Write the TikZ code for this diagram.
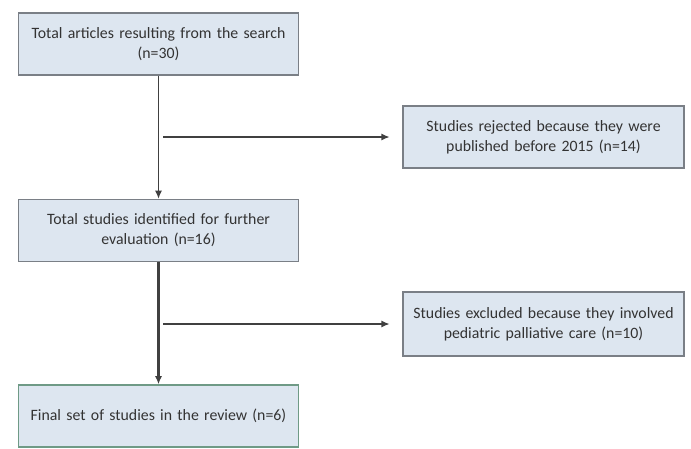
\documentclass[tikz,border=0pt]{standalone}
\usepackage{fontspec}
\setmainfont{Carlito}
\usetikzlibrary{arrows.meta}

\definecolor{boxfill}{HTML}{DDE6F0}
\definecolor{boxline}{HTML}{7A7F86}
\definecolor{endline}{HTML}{6F9A86}

\tikzset{
  stage/.style={draw=boxline, line width=1.1pt, fill=boxfill, align=center,
    text width=8.1cm, inner sep=2pt, minimum width=8.4cm, minimum height=1.86cm,
    font=\fontsize{13.5}{17}\selectfont, text=black!80},
  flow/.style={draw=black!75, line width=1.3pt, -{Latex[length=7pt,width=6pt]}}
}

\begin{document}
\begin{tikzpicture}[x=0.03cm,y=-0.03cm]
  \useasboundingbox (0,0) rectangle (691,449);

  \node[stage] (search) at (158.5,44) {Total articles resulting from the search\\(n=30)};
  \node[stage] (further) at (158.5,230.5) {Total studies identified for further\\evaluation (n=16)};
  \node[stage, draw=endline] (final) at (158.5,416) {Final set of studies in the review (n=6)};

  \node[stage, minimum width=8.43cm] (rejected) at (543.5,137) {Studies rejected because they were\\published before 2015 (n=14)};
  \node[stage, minimum width=8.43cm, minimum height=1.92cm] (excluded) at (543.5,324) {Studies excluded because they involved\\pediatric palliative care (n=10)};

  \coordinate (split1) at (163,137);
  \coordinate (split2) at (163,324);

  \draw[flow] (search) -- (further);
  \draw[flow, line width=1.8pt] (further) -- (final);
  \draw[flow, shorten >=0.38cm] (split1) -- (rejected.west);
  \draw[flow, shorten >=0.38cm] (split2) -- (excluded.west);
\end{tikzpicture}
\end{document}
